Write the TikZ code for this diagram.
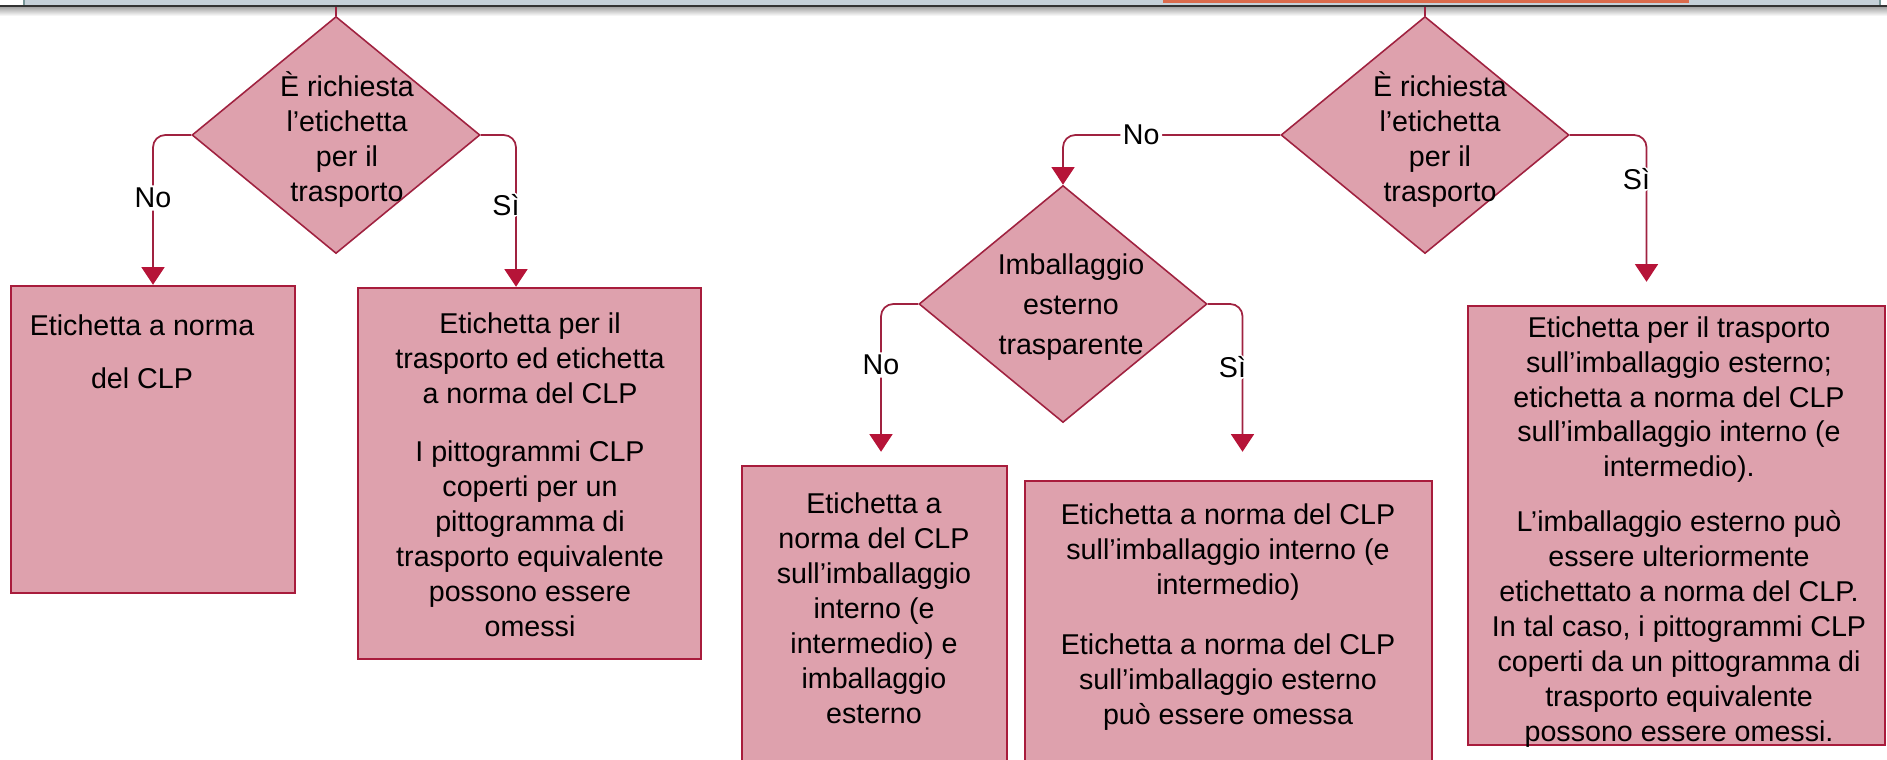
\documentclass[tikz,border=0pt]{standalone}
\usepackage{fontspec}
\setmainfont{Liberation Sans}
\usetikzlibrary{shapes.geometric,arrows.meta,positioning}

\definecolor{linered}{RGB}{160,34,64}
\definecolor{tipred}{RGB}{182,20,56}
\definecolor{boxred}{RGB}{168,28,60}
\definecolor{pinkfill}{RGB}{222,161,173}
\definecolor{barblue}{RGB}{198,209,217}
\definecolor{barorange}{RGB}{219,107,76}
\definecolor{barteal}{RGB}{120,150,152}
\newcommand{\fs}{\fontsize{16.3}{19.9}\selectfont}

\begin{document}
\begin{tikzpicture}[
    dia/.style={diamond, draw=linered, fill=pinkfill, line width=0.9pt, minimum width=5.76cm, minimum height=4.74cm, inner sep=0pt},
    box/.style={rectangle, draw=boxred, fill=pinkfill, line width=1.4pt, inner sep=0pt},
    txt/.style={align=center, font=\fs, inner sep=0pt},
    lbl/.style={fill=white, font=\fs, inner sep=1.5pt},
    conn/.style={draw=linered, line width=1pt, rounded corners=7pt, -{Triangle[width=13pt,length=10pt,color=tipred]}}
  ]
  \useasboundingbox (0,0) rectangle (37.74,-15.18);
  \clip (0,0) rectangle (37.74,-15.18);
  % bar at the top
  \fill[barblue] (0.48,0) rectangle (37.6,-0.09);
  \fill[barorange] (23.26,0) rectangle (33.78,-0.055);
  \draw[barteal, line width=1pt] (0.48,0) -- (0.48,-0.09);
  \draw[barteal, line width=1pt] (37.6,0) -- (37.6,-0.09);
  \shade[top color=black!35, bottom color=white] (0,-0.14) rectangle (37.74,-0.32);
  \draw[black!80, line width=1.3pt] (0,-0.12) -- (37.74,-0.12);
  \coordinate (top1) at (6.72,-0.13);
  \coordinate (top2) at (28.50,-0.13);

  % decisions
  \node[dia] (d1) at (6.72,-2.70) {};
  \node[txt] (q1) at (6.94,-2.80) {È richiesta\\l’etichetta\\per il\\trasporto};
  \node[dia] (d2) at (28.50,-2.70) {};
  \node[txt] (q2) at (28.80,-2.80) {È richiesta\\l’etichetta\\per il\\trasporto};
  \node[dia] (d3) at (21.26,-6.08) {};
  \node[txt] (q3) at (21.42,-6.14) {Imballaggio\\[0.1cm]esterno\\[0.1cm]trasparente};

  % outcomes
  \node[box, minimum width=5.68cm, minimum height=6.14cm] (b1) at (3.06,-8.79) {};
  \node[txt] (t1) at (2.84,-7.03) {Etichetta a norma\\[0.36cm]del CLP};
  \node[box, minimum width=6.86cm, minimum height=7.42cm] (b2) at (10.59,-9.47) {};
  \node[txt] (t2) at (10.60,-9.50) {Etichetta per il\\trasporto ed etichetta\\a norma del CLP\\[0.46cm]I pittogrammi CLP\\coperti per un\\pittogramma di\\trasporto equivalente\\possono essere\\omessi};
  \node[box, minimum width=5.30cm, minimum height=6.68cm] (b3) at (17.49,-12.66) {};
  \node[txt] (t3) at (17.48,-12.16) {Etichetta a\\norma del CLP\\sull’imballaggio\\interno (e\\intermedio) e\\imballaggio\\esterno};
  \node[box, minimum width=8.14cm, minimum height=6.38cm] (b4) at (24.57,-12.81) {};
  \node[txt] (t4) at (24.56,-12.35) {Etichetta a norma del CLP\\sull’imballaggio interno (e\\intermedio)\\[0.5cm]Etichetta a norma del CLP\\sull’imballaggio esterno\\può essere omessa};
  \node[box, minimum width=8.34cm, minimum height=8.78cm] (b5) at (33.53,-10.51) {};
  \node[txt] (t5) at (33.58,-10.64) {Etichetta per il trasporto\\sull’imballaggio esterno;\\etichetta a norma del CLP\\sull’imballaggio interno (e\\intermedio).\\[0.4cm]L’imballaggio esterno può\\essere ulteriormente\\etichettato a norma del CLP.\\In tal caso, i pittogrammi CLP\\coperti da un pittogramma di\\trasporto equivalente\\possono essere omessi.};

  % connectors
  \draw[draw=linered, line width=1pt] (top1) -- (d1.north);
  \draw[draw=linered, line width=1pt] (top2) -- (d2.north);
  \draw[conn] (d1.west) -| (b1.north) node[lbl, pos=0.71] (n1) {No};
  \draw[conn] (d1.east) -| ([xshift=-0.27cm]b2.north) node[lbl, pos=0.73, xshift=-0.2cm] (s1) {Sì};
  \draw[conn] (d2.west) -| (d3.north) node[lbl, pos=0.32] (n2) {No};
  \draw[conn, shorten >=0.46cm] (d2.east) -| ([xshift=-0.6cm]b5.north) node[lbl, pos=0.63, xshift=-0.2cm] (s2) {Sì};
  \draw[conn, shorten >=0.26cm] (d3.west) -| ([xshift=0.13cm]b3.north) node[lbl, pos=0.69] (n3) {No};
  \draw[conn, shorten >=0.56cm] (d3.east) -| ([xshift=0.28cm]b4.north) node[lbl, pos=0.68, xshift=-0.2cm] (s3) {Sì};
\end{tikzpicture}
\end{document}
